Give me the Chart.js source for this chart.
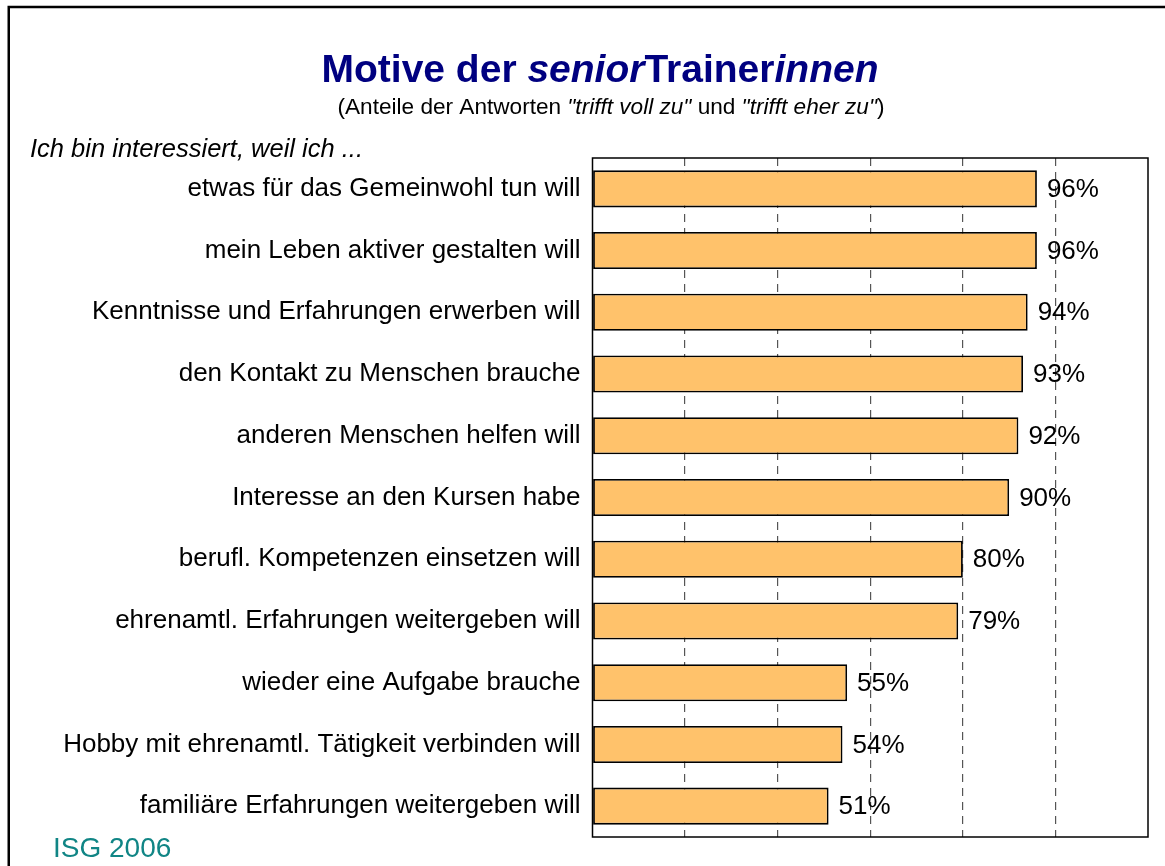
<!DOCTYPE html>
<html>
<head>
<meta charset="utf-8">
<script src="https://cdn.jsdelivr.net/npm/chart.js@4/dist/chart.umd.min.js"></script>
<style>
  html, body { margin: 0; padding: 0; background: #ffffff; }
  #wrap { width: 1165px; height: 866px; position: relative; }
</style>
</head>
<body>
<div id="wrap"><canvas id="c" width="1165" height="866"></canvas></div>
<script>
const categories = [
  "etwas für das Gemeinwohl tun will",
  "mein Leben aktiver gestalten will",
  "Kenntnisse und Erfahrungen erwerben will",
  "den Kontakt zu Menschen brauche",
  "anderen Menschen helfen will",
  "Interesse an den Kursen habe",
  "berufl. Kompetenzen einsetzen will",
  "ehrenamtl. Erfahrungen weitergeben will",
  "wieder eine Aufgabe brauche",
  "Hobby mit ehrenamtl. Tätigkeit verbinden will",
  "familiäre Erfahrungen weitergeben will"
];
const shares = [96, 96, 94, 93, 92, 90, 80, 79, 55, 54, 51];
const valueLabels = ["96%", "96%", "94%", "93%", "92%", "90%", "80%", "79%", "55%", "54%", "51%"];
const titleParts = [
  { text: "Motive der ", italic: false },
  { text: "senior", italic: true },
  { text: "Trainer", italic: false },
  { text: "innen", italic: true }
];
const subtitleParts = [
  { text: "(Anteile der Antworten ", italic: false },
  { text: "\"trifft voll zu\"", italic: true },
  { text: " und ", italic: false },
  { text: "\"trifft eher zu\"", italic: true },
  { text: ")", italic: false }
];
const leadText = "Ich bin interessiert, weil ich ...";
const sourceText = "ISG 2006";

const FONT = '"Liberation Sans", Arial, Helvetica, sans-serif';

function drawRich(ctx, parts, cx, baseline, size, weight, color) {
  let total = 0;
  const widths = parts.map(p => {
    ctx.font = (p.italic ? 'italic ' : '') + weight + ' ' + size + 'px ' + FONT;
    const w = ctx.measureText(p.text).width;
    total += w;
    return w;
  });
  let x = cx - total / 2;
  ctx.fillStyle = color;
  ctx.textAlign = 'left';
  ctx.textBaseline = 'alphabetic';
  parts.forEach((p, i) => {
    ctx.font = (p.italic ? 'italic ' : '') + weight + ' ' + size + 'px ' + FONT;
    ctx.fillText(p.text, x, baseline);
    x += widths[i];
  });
}

const decorPlugin = {
  id: 'decor',
  beforeDraw(chart) {
    const ctx = chart.ctx;
    ctx.save();
    ctx.fillStyle = '#ffffff';
    ctx.fillRect(0, 0, chart.width, chart.height);
    // frame
    ctx.strokeStyle = '#000000';
    ctx.lineWidth = 2.5;
    ctx.beginPath();
    ctx.moveTo(8.75, 880);
    ctx.lineTo(8.75, 7);
    ctx.lineTo(1200, 7);
    ctx.stroke();
    // titles
    drawRich(ctx, titleParts, 600, 82, 39, 'bold', '#000080');
    drawRich(ctx, subtitleParts, 611, 114, 22.6, 'normal', '#000000');
    ctx.font = 'italic 25.5px ' + FONT;
    ctx.fillStyle = '#000000';
    ctx.textAlign = 'left';
    ctx.fillText(leadText, 30, 157);
    ctx.font = '28px ' + FONT;
    ctx.fillStyle = '#108585';
    ctx.fillText(sourceText, 53, 857);
    ctx.restore();
  },
  afterDatasetsDraw(chart) {
    const ctx = chart.ctx;
    const meta = chart.getDatasetMeta(0);
    ctx.save();
    ctx.font = '26px ' + FONT;
    ctx.fillStyle = '#000000';
    ctx.textAlign = 'left';
    ctx.textBaseline = 'middle';
    meta.data.forEach((bar, i) => {
      ctx.fillText(valueLabels[i], bar.x + 10, bar.y + 1);
    });
    const a = chart.chartArea;
    ctx.strokeStyle = '#000000';
    ctx.lineWidth = 1.5;
    ctx.strokeRect(a.left, a.top, a.right - a.left, a.bottom - a.top);
    ctx.restore();
  }
};

new Chart(document.getElementById('c'), {
  type: 'bar',
  data: {
    labels: categories,
    datasets: [{
      data: shares,
      backgroundColor: '#FFC26B',
      borderColor: '#000000',
      borderWidth: 1.8,
      borderSkipped: false,
      barPercentage: 0.6,
      categoryPercentage: 1.0
    }]
  },
  options: {
    indexAxis: 'y',
    responsive: false,
    animation: false,
    devicePixelRatio: 1,
    layout: { padding: { top: 158, bottom: 29, right: 17, left: 0 } },
    plugins: {
      legend: { display: false },
      tooltip: { enabled: false },
      title: { display: false }
    },
    scales: {
      x: {
        min: 0,
        max: 120,
        ticks: { display: false, stepSize: 20 },
        grid: {
          drawTicks: false,
          lineWidth: 1.2,
          color: (c) => (c.tick && (c.tick.value === 0 || c.tick.value === 120)) ? 'rgba(0,0,0,0)' : '#555555'
        },
        border: { display: false, dash: [8, 6] },
        afterFit(scale) { scale.height = 0; }
      },
      y: {
        ticks: {
          color: '#000000',
          font: { family: FONT, size: 26 },
          padding: 12,
          autoSkip: false
        },
        grid: { display: false, drawTicks: false },
        border: { display: false },
        afterFit(scale) { scale.width = 592.5; }
      }
    }
  },
  plugins: [decorPlugin]
});
</script>
</body>
</html>
